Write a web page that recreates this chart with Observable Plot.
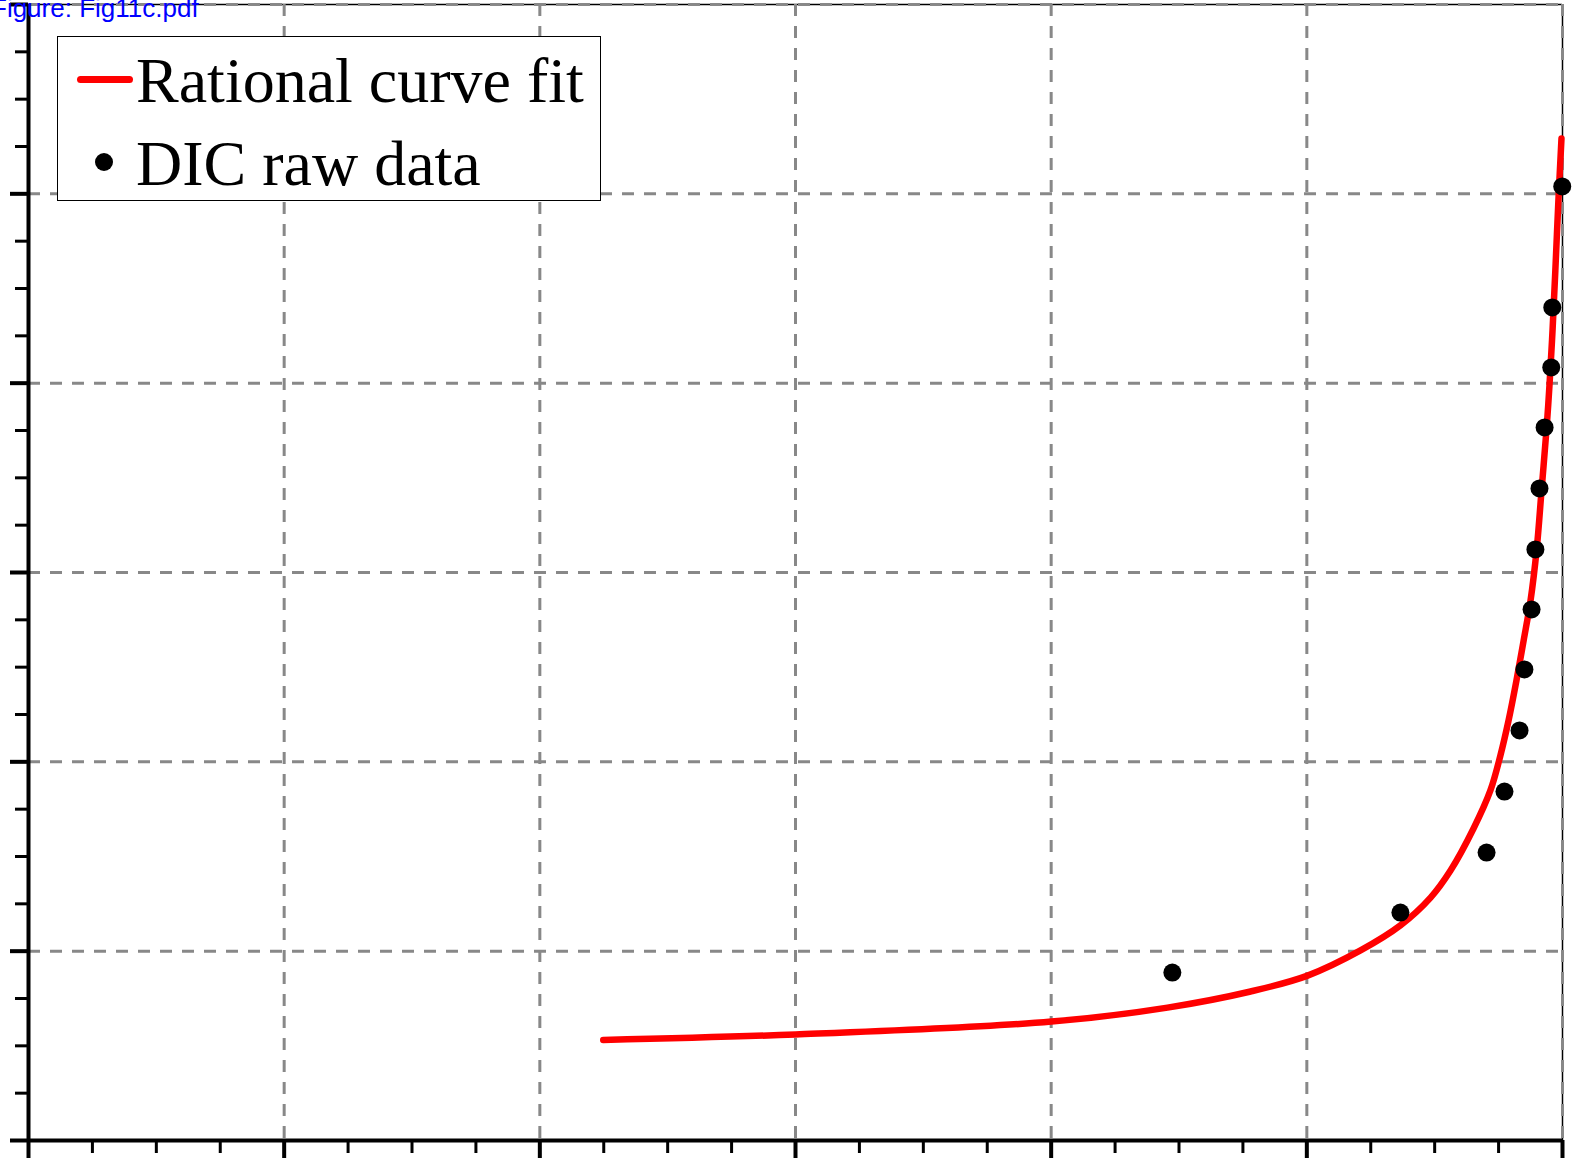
<!DOCTYPE html>
<html>
<head>
<meta charset="utf-8">
<script src="https://cdn.jsdelivr.net/npm/d3@7"></script>
<script src="https://cdn.jsdelivr.net/npm/@observablehq/plot@0.6"></script>
<style>
  html, body { margin: 0; padding: 0; background: #fff; overflow: hidden; }
  #wrap { position: relative; width: 1575px; height: 1168px; }
  #chart svg { display: block; }
  #fname { position: absolute; left: -9px; top: -5px; font-family: "Liberation Sans", Arial, sans-serif; font-size: 26px; color: #0000ff; line-height: 26px; white-space: nowrap; }
  #legend { position: absolute; left: 57px; top: 36px; width: 542px; height: 163px; border: 1.5px solid #000; background: #fff; }
  .li { position: absolute; left: 78px; font-family: "Liberation Serif", "Times New Roman", serif; font-size: 64px; line-height: 64px; color: #000; white-space: nowrap; }
  .sw-line { position: absolute; left: 19px; top: 38.5px; width: 56px; height: 7px; background: #ff0000; border-radius: 3.5px; }
  .sw-dot { position: absolute; left: 37px; top: 116px; width: 18px; height: 18px; border-radius: 50%; background: #000; }
</style>
</head>
<body>
<div id="wrap">
  <div id="chart"></div>
  <div id="legend">
    <div class="sw-line"></div>
    <div class="li" style="top:12px">Rational curve fit</div>
    <div class="sw-dot"></div>
    <div class="li" style="top:95px">DIC raw data</div>
  </div>
  <div id="fname">Figure: Fig11c.pdf</div>
</div>
<script>
// Tick positions (no labels are shown in the reference)
const xMajorTicks = [0, 1, 2, 3, 4, 5, 6];
const xMinorTicks = [0.25, 0.5, 0.75, 1.25, 1.5, 1.75, 2.25, 2.5, 2.75, 3.25, 3.5, 3.75, 4.25, 4.5, 4.75, 5.25, 5.5, 5.75];
const yMajorTicks = [0, 1, 2, 3, 4, 5, 6];
const yMinorTicks = [0.25, 0.5, 0.75, 1.25, 1.5, 1.75, 2.25, 2.5, 2.75, 3.25, 3.5, 3.75, 4.25, 4.5, 4.75, 5.25, 5.5, 5.75];
const gridTicks = [1, 2, 3, 4, 5, 6];

// DIC raw data
const dicX = [4.474, 5.366, 5.703, 5.773, 5.832, 5.851, 5.879, 5.894, 5.910, 5.930, 5.956, 5.960, 5.999];
const dicY = [0.887, 1.204, 1.521, 1.843, 2.166, 2.488, 2.805, 3.122, 3.444, 3.766, 4.083, 4.400, 5.039];

// Rational curve fit
const fitX = [2.248, 3.000, 4.001, 4.455, 4.780, 5.003, 5.210, 5.366, 5.484, 5.562, 5.652, 5.718, 5.757, 5.789, 5.820, 5.848, 5.875, 5.899, 5.918, 5.938, 5.949, 5.961, 5.972, 5.984, 5.996];
const fitY = [0.531, 0.560, 0.628, 0.702, 0.787, 0.871, 1.004, 1.136, 1.283, 1.426, 1.648, 1.849, 2.033, 2.218, 2.430, 2.641, 2.852, 3.122, 3.433, 3.766, 3.988, 4.278, 4.595, 4.965, 5.292];

const dic = dicX.map((x, i) => ({x, y: dicY[i]}));
const fit = fitX.map((x, i) => ({x, y: fitY[i]}));

const noLabel = () => "";
const gridStyle = {stroke: "#888888", strokeOpacity: 1, strokeWidth: 3, strokeDasharray: "12,10"};

const chart = Plot.plot({
  width: 1575,
  height: 1168,
  marginLeft: 28,
  marginRight: 13,
  marginTop: 4,
  marginBottom: 28,
  style: {background: "#fff", overflow: "visible"},
  x: {domain: [0, 6], axis: null},
  y: {domain: [0, 6], axis: null},
  marks: [
    Plot.ruleY([6], {stroke: "#000", strokeWidth: 1.5}),
    Plot.ruleX([6], {stroke: "#000", strokeWidth: 1.5}),
    Plot.gridX(gridTicks, gridStyle),
    Plot.gridY(gridTicks, gridStyle),
    Plot.axisX(xMinorTicks, {anchor: "bottom", tickSize: 13, strokeWidth: 3, tickFormat: noLabel, label: null}),
    Plot.axisX(xMajorTicks, {anchor: "bottom", tickSize: 18, strokeWidth: 4, tickFormat: noLabel, label: null}),
    Plot.axisY(yMinorTicks, {anchor: "left", tickSize: 13, strokeWidth: 3, tickFormat: noLabel, label: null}),
    Plot.axisY(yMajorTicks, {anchor: "left", tickSize: 18, strokeWidth: 4, tickFormat: noLabel, label: null}),
    Plot.ruleX([0], {stroke: "#000", strokeWidth: 4}),
    Plot.ruleY([0], {stroke: "#000", strokeWidth: 4}),
    Plot.line(fit, {x: "x", y: "y", stroke: "#ff0000", strokeWidth: 6.5, curve: "catmull-rom"}),
    Plot.dot(dic, {x: "x", y: "y", r: 9, fill: "#000", stroke: "none"})
  ]
});
document.getElementById("chart").appendChild(chart);
</script>
</body>
</html>
